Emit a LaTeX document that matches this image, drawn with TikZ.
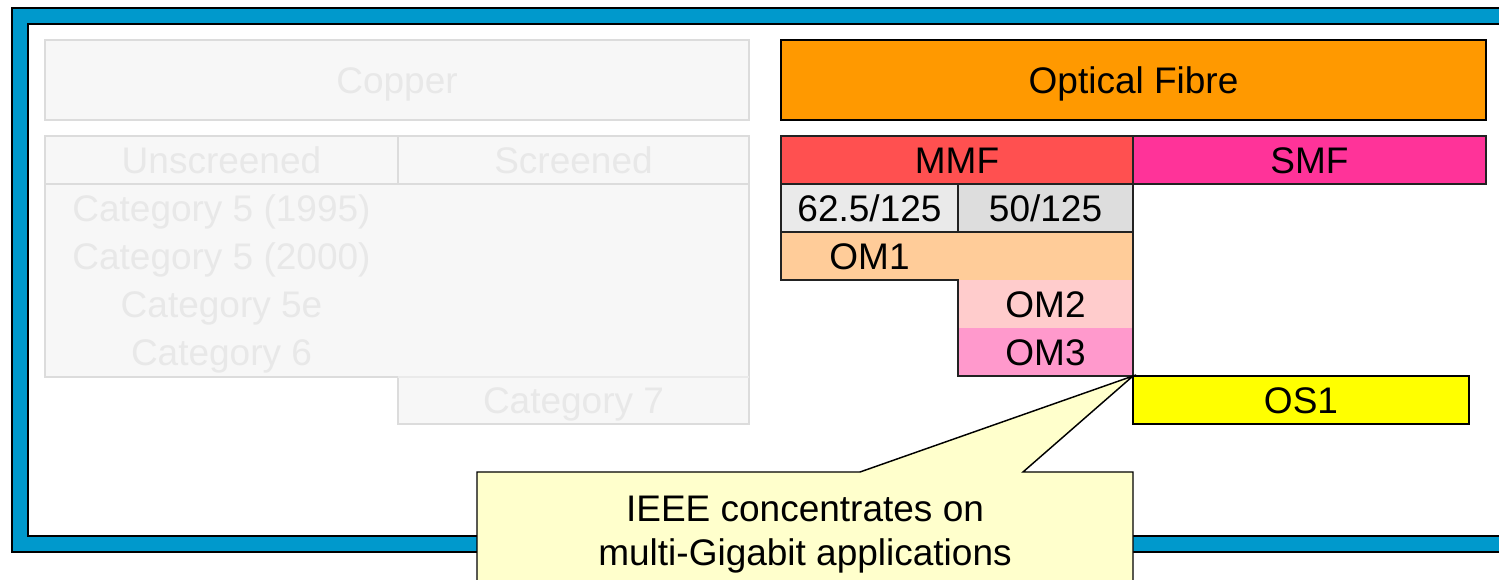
\documentclass[tikz,border=0pt]{standalone}
\usepackage{fontspec}
\setmainfont{Liberation Sans}
\definecolor{frameblue}{HTML}{0099CC}
\definecolor{orangec}{HTML}{FF9900}
\definecolor{mmfc}{HTML}{FF5050}
\definecolor{smfc}{HTML}{FF3399}
\definecolor{sixtwoc}{HTML}{EAEAEA}
\definecolor{fiftyc}{HTML}{DDDDDD}
\definecolor{omonec}{HTML}{FFCC99}
\definecolor{omtwoc}{HTML}{FFCCCC}
\definecolor{omthreec}{HTML}{FF99CC}
\definecolor{osonec}{HTML}{FFFF00}
\definecolor{calloutc}{HTML}{FFFFCC}
\definecolor{cufill}{HTML}{F7F7F7}
\definecolor{cuborder}{HTML}{DCDCDC}
\definecolor{cutext}{HTML}{E8E8E8}
\definecolor{cellline}{HTML}{222222}
\begin{document}
\begin{tikzpicture}[x=0.75pt,y=-0.75pt,
  txt/.style={font=\fontsize{27.75pt}{34pt}\selectfont, inner sep=0pt, text height=19.9pt, text depth=0pt, anchor=center},
  cutxt/.style={txt, text=cutext},
  cubox/.style={fill=cufill, draw=cuborder, line width=1.5pt},
  fibox/.style={draw=cellline, line width=1.1pt},
]
\useasboundingbox (0,0) rectangle (1499,580);
\clip (0,0) rectangle (1499,580);
% frame
\fill[gray!60] (11,7) rectangle (1520,553);
\draw[fill=frameblue, draw=black, line width=1.3pt] (12,8) rectangle (1520,552);
\draw[fill=white, draw=black, line width=1.3pt] (28,24) rectangle (1505,536);

% copper side
\draw[cubox] (45,40) rectangle (749,120);
\node[cutxt] (copper) at (397,80) {Copper};
\draw[cubox] (45,136) rectangle (398,184);
\draw[cubox] (398,136) rectangle (749,184);
\node[cutxt] (unscr) at (221.5,160) {Unscreened};
\node[cutxt] (scr) at (573.5,160) {Screened};
\draw[cubox] (45,184) -- (749,184) -- (749,424) -- (398,424) -- (398,377) -- (45,377) -- cycle;
\draw[draw=cuborder!60, line width=0.8pt] (398,377) -- (749,377);
\node[cutxt] (cata) at (221.5,208) {Category 5 (1995)};
\node[cutxt] (catb) at (221.5,256) {Category 5 (2000)};
\node[cutxt] (catc) at (221.5,304) {Category 5e};
\node[cutxt] (catd) at (221.5,352) {Category 6};
\node[cutxt] (cate) at (573.5,400) {Category 7};

% fibre side
\draw[fill=orangec, draw=black, line width=2pt] (781,40) rectangle (1486,120);
\node[txt] (optical) at (1133.5,80) {Optical Fibre};
\draw[fibox, fill=mmfc] (781,136) rectangle (1133,184);
\node[txt] (mmf) at (957,160) {MMF};
\draw[fibox, fill=smfc] (1133,136) rectangle (1486,184);
\node[txt] (smf) at (1309.5,160) {SMF};
\draw[fibox, fill=sixtwoc] (781,184) rectangle (958,232);
\node[txt] (sixtwo) at (869.5,208) {62.5/125};
\draw[fibox, fill=fiftyc] (958,184) rectangle (1133,232);
\node[txt] (fifty) at (1045.5,208) {50/125};
\fill[omonec] (781,232) rectangle (1133,280);
\fill[omtwoc] (958,280) rectangle (1133,328);
\fill[omthreec] (958,328) rectangle (1133,376);
\draw[fibox] (781,232) -- (1133,232) -- (1133,376) -- (958,376) -- (958,280) -- (781,280) -- cycle;
\node[txt] (omone) at (869.5,256) {OM1};
\node[txt] (omtwo) at (1045.5,304) {OM2};
\node[txt] (omthree) at (1045.5,352) {OM3};
\draw[fill=osonec, draw=black, line width=1.6pt] (1133,376) rectangle (1469,424);
\node[txt] (osone) at (1301,400) {OS1};

% callout
\coordinate (tip) at (1133,376);
\draw[fill=calloutc, draw=black, line width=1.1pt, line join=miter]
  (477,472) -- (860,472) -- (tip) -- (1023,472) -- (1133,472) -- (1133,600) -- (477,600) -- cycle;
\node[txt] (calla) at (805,508) {IEEE concentrates on};
\node[txt] (callb) at (805,552) {multi-Gigabit applications};
\end{tikzpicture}
\end{document}
